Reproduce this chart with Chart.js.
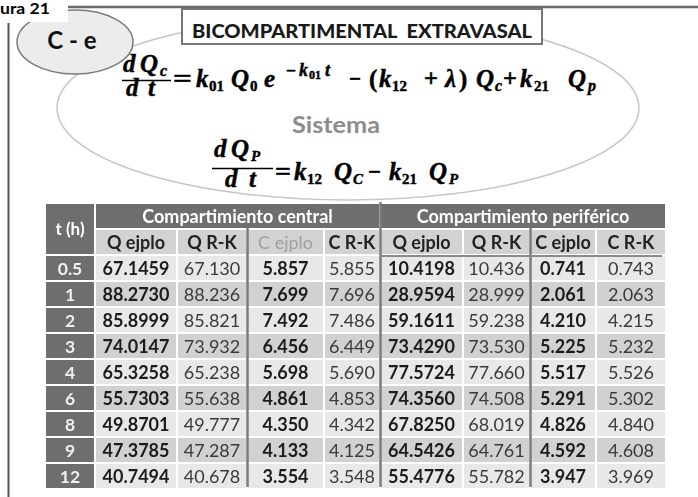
<!DOCTYPE html>
<html><head><meta charset="utf-8">
<script src="https://cdn.jsdelivr.net/npm/chart.js@4"></script>
<style>
html,body{margin:0;padding:0;background:#fff;overflow:hidden}
#wrap{position:relative;width:698px;height:497px}
#wrap svg,#wrap canvas{position:absolute;left:0;top:0}
</style></head><body>
<div id="wrap">
<svg width="698" height="497" xmlns="http://www.w3.org/2000/svg">
  <ellipse cx="348" cy="108" rx="291" ry="92" fill="none" stroke="#c6c6c6" stroke-width="1.5"/>
  <ellipse cx="75" cy="42" rx="58" ry="32" fill="#ececec" stroke="#7a7a7a" stroke-width="1.5"/>
  <text x="72" y="49" text-anchor="middle" font-family="Lato" font-weight="bold" font-size="24" fill="#111">C - e</text>
  <rect x="0" y="0" width="68" height="22" fill="#fff"/>
  <text x="0" y="14" font-family="Lato" font-weight="bold" font-size="16" fill="#000" textLength="50" lengthAdjust="spacingAndGlyphs">ura 21</text>
  <line x1="68" y1="7" x2="698" y2="7" stroke="#6b6b6b" stroke-width="2.5"/>
  <line x1="8.5" y1="23" x2="8.5" y2="497" stroke="#555" stroke-width="2"/>
  <rect x="182" y="9" width="360" height="35" fill="#fff" stroke="#777" stroke-width="2"/>
  <text x="192" y="38" font-family="Lato" font-weight="900" font-size="18" fill="#1a1a1a" textLength="340" lengthAdjust="spacingAndGlyphs">BICOMPARTIMENTAL&#160;&#160;EXTRAVASAL</text>
  <text x="292" y="133" font-family="Lato" font-weight="bold" font-size="22" fill="#8c8c8c" textLength="88" lengthAdjust="spacingAndGlyphs">Sistema</text>

  <g font-family="Liberation Serif" font-weight="bold" font-style="italic" font-size="25" fill="#000" stroke="#000" stroke-width="0.45">
    <!-- equation 1 -->
    <text x="123" y="72">d</text><text x="140" y="72">Q</text><text x="160" y="76" font-size="16">c</text>
    <line x1="122" y1="80.5" x2="171" y2="80.5" stroke="#000" stroke-width="1.6"/>
    <text x="126" y="96">d</text><text x="148" y="96">t</text>
    <text x="173" y="87" font-style="normal" textLength="19" lengthAdjust="spacingAndGlyphs">=</text>
    <text x="196" y="87">k</text><text x="209" y="91" font-size="15" font-style="normal">01</text>
    <text x="231" y="87">Q</text><text x="250" y="91" font-size="15" font-style="normal">0</text>
    <text x="264" y="87">e</text>
    <text x="286" y="76" font-size="16" font-style="normal" textLength="10" lengthAdjust="spacingAndGlyphs">−</text>
    <text x="299" y="76" font-size="18">k</text><text x="309" y="79" font-size="12" font-style="normal">01</text>
    <text x="325" y="76" font-size="18">t</text>
    <text x="349" y="87" font-style="normal" textLength="12" lengthAdjust="spacingAndGlyphs">−</text>
    <text x="369" y="87" font-style="normal">(</text><text x="379" y="87">k</text><text x="392" y="91" font-size="15" font-style="normal">12</text>
    <text x="424" y="87" font-style="normal" textLength="14" lengthAdjust="spacingAndGlyphs">+</text>
    <text x="445" y="87">λ</text><text x="459" y="87" font-style="normal">)</text>
    <text x="476" y="87">Q</text><text x="495" y="91" font-size="16">c</text>
    <text x="503" y="87" font-style="normal" textLength="14" lengthAdjust="spacingAndGlyphs">+</text>
    <text x="520" y="87">k</text><text x="534" y="91" font-size="15" font-style="normal">21</text>
    <text x="568" y="87">Q</text><text x="588" y="91" font-size="16">p</text>
    <!-- equation 2 -->
    <text x="214" y="157">d</text><text x="231" y="157">Q</text><text x="251" y="161" font-size="15">P</text>
    <line x1="212" y1="168.5" x2="273" y2="168.5" stroke="#000" stroke-width="1.6"/>
    <text x="225" y="187">d</text><text x="249" y="187">t</text>
    <text x="275" y="180" font-style="normal" textLength="16" lengthAdjust="spacingAndGlyphs">=</text>
    <text x="294" y="180">k</text><text x="307" y="184" font-size="15" font-style="normal">12</text>
    <text x="334" y="180">Q</text><text x="353" y="184" font-size="15">C</text>
    <text x="368" y="180" font-style="normal" textLength="13" lengthAdjust="spacingAndGlyphs">−</text>
    <text x="389" y="180">k</text><text x="402" y="184" font-size="15" font-style="normal">21</text>
    <text x="429" y="180">Q</text><text x="449" y="184" font-size="15">P</text>
  </g>
</svg>
<canvas id="c" width="698" height="497"></canvas>
</div>
<script>
// ---- data ----
const times = ['0.5', '1', '2', '3', '4', '6', '8', '9', '12'];
const timeHeader = 't (h)';
const groupHeaders = ['Compartimiento central', 'Compartimiento periférico'];
const subHeaders = ['Q ejplo', 'Q R-K', 'C ejplo', 'C R-K', 'Q ejplo', 'Q R-K', 'C ejplo', 'C R-K'];
const qCentralEjplo = [67.1459, 88.2730, 85.8999, 74.0147, 65.3258, 55.7303, 49.8701, 47.3785, 40.7494];
const qCentralRK    = [67.130, 88.236, 85.821, 73.932, 65.238, 55.638, 49.777, 47.287, 40.678];
const cCentralEjplo = [5.857, 7.699, 7.492, 6.456, 5.698, 4.861, 4.350, 4.133, 3.554];
const cCentralRK    = [5.855, 7.696, 7.486, 6.449, 5.690, 4.853, 4.342, 4.125, 3.548];
const qPerifEjplo   = [10.4198, 28.9594, 59.1611, 73.4290, 77.5724, 74.3560, 67.8250, 64.5426, 55.4776];
const qPerifRK      = [10.436, 28.999, 59.238, 73.530, 77.660, 74.508, 68.019, 64.761, 55.782];
const cPerifEjplo   = [0.741, 2.061, 4.210, 5.225, 5.517, 5.291, 4.826, 4.592, 3.947];
const cPerifRK      = [0.743, 2.063, 4.215, 5.232, 5.526, 5.302, 4.840, 4.608, 3.969];
const decimals      = [4, 3, 3, 3, 4, 3, 3, 3];

// ---- layout / style ----
const columns = [qCentralEjplo, qCentralRK, cCentralEjplo, cCentralRK, qPerifEjplo, qPerifRK, cPerifEjplo, cPerifRK];
const colWidths = [50, 82, 70, 77, 56, 83, 67, 66, 70];
const edges = [0];
colWidths.forEach(w => edges.push(edges[edges.length - 1] + w));
const rowLabels = ['hdr1', 'hdr2', ...times];
const FONT = 'Lato';
const boldCol = [true, false, true, false, true, false, true, false];

const darkCells = [
  { x: [edges[0], edges[1]], y: 'hdr1', t: timeHeader, span: true, mb: true, font: `bold 17px ${FONT}`, color: '#ffffff' },
  { x: [edges[0], edges[1]], y: 'hdr2', mt: true },
  { x: [edges[1], edges[5]], y: 'hdr1', t: groupHeaders[0], font: `bold 18px ${FONT}`, color: '#ffffff' },
  { x: [edges[5], edges[9]], y: 'hdr1', t: groupHeaders[1], font: `bold 18px ${FONT}`, color: '#ffffff' },
  ...times.map(tm => ({ x: [edges[0], edges[1]], y: tm, t: tm, font: `bold 17.5px ${FONT}`, color: '#f0f0f0' }))
];
const subCells = subHeaders.map((s, i) => ({
  x: [edges[i + 1], edges[i + 2]], y: 'hdr2', t: s,
  font: i === 2 ? `18px ${FONT}` : `bold 18px ${FONT}`,
  color: i === 2 ? '#a0a0a0' : '#222222'
}));
const lightCells = [], midCells = [];
times.forEach((tm, r) => {
  columns.forEach((col, c) => {
    const cell = {
      x: [edges[c + 1], edges[c + 2]], y: tm,
      t: col[r].toFixed(decimals[c]),
      font: boldCol[c] ? `bold 18px ${FONT}` : `18px ${FONT}`,
      color: boldCol[c] ? '#1c1c1c' : '#3a3a3a'
    };
    (r % 2 === 0 ? lightCells : midCells).push(cell);
  });
});

const common = {
  borderColor: '#ffffff',
  borderSkipped: false,
  grouped: false,
  barPercentage: 1,
  categoryPercentage: 1,
  inflateAmount: 0,
  borderWidth: (ctx) => {
    const r = ctx.raw;
    if (r && r.mb) return { top: 1, left: 1, right: 1, bottom: 0 };
    if (r && r.mt) return { top: 0, left: 1, right: 1, bottom: 1 };
    return 1;
  }
};

const textPlugin = {
  id: 'cellText',
  afterDatasetsDraw(chart) {
    const ctx = chart.ctx;
    ctx.save();
    ctx.textAlign = 'center';
    ctx.textBaseline = 'middle';
    chart.data.datasets.forEach((ds, di) => {
      const meta = chart.getDatasetMeta(di);
      meta.data.forEach((el, j) => {
        const raw = ds.data[j];
        if (!raw || raw.t == null) return;
        const p = el.getProps(['x', 'y', 'base', 'height'], true);
        const cx = (p.x + p.base) / 2;
        const cy = p.y + (raw.span ? p.height / 2 : 0) + 1;
        ctx.font = raw.font;
        ctx.fillStyle = raw.color;
        ctx.fillText(raw.t, cx, cy);
      });
    });
    ctx.restore();
  }
};

const separators = [
  { edge: 5, fromRow: 0 },
  { edge: 3, fromRow: 1 },
  { edge: 7, fromRow: 1 }
];
const sepPlugin = {
  id: 'separators',
  afterDraw(chart) {
    const xs = chart.scales.x, ys = chart.scales.y;
    const band = ys.getPixelForValue(1) - ys.getPixelForValue(0);
    const rowTop = i => ys.getPixelForValue(i) - band / 2;
    const bottom = rowTop(rowLabels.length) - 2;
    const ctx = chart.ctx;
    ctx.save();
    ctx.strokeStyle = '#7b7b7b';
    ctx.lineWidth = 2.5;
    separators.forEach(s => {
      const x = Math.round(xs.getPixelForValue(edges[s.edge])) + 0.5;
      ctx.beginPath();
      ctx.moveTo(x, rowTop(s.fromRow) - 1);
      ctx.lineTo(x, bottom);
      ctx.stroke();
    });
    ctx.lineWidth = 2;
    ctx.strokeStyle = '#8a8a8a';
    const yH = rowTop(2) + 1;
    ctx.beginPath();
    ctx.moveTo(xs.getPixelForValue(edges[5]), yH);
    ctx.lineTo(xs.getPixelForValue(edges[9]) - 4, yH);
    ctx.stroke();
    ctx.restore();
  }
};

new Chart(document.getElementById('c'), {
  type: 'bar',
  data: {
    labels: rowLabels,
    datasets: [
      { label: 'dark', data: darkCells, backgroundColor: '#6e6e6e', ...common },
      { label: 'sub', data: subCells, backgroundColor: '#d2d2d2', ...common },
      { label: 'light', data: lightCells, backgroundColor: '#e8e8e8', ...common },
      { label: 'mid', data: midCells, backgroundColor: '#d1d1d1', ...common }
    ]
  },
  options: {
    indexAxis: 'y',
    responsive: false,
    devicePixelRatio: 1,
    animation: false,
    layout: { padding: { left: 45, top: 203, right: 32, bottom: 8 } },
    scales: {
      x: { type: 'linear', min: 0, max: edges[edges.length - 1], display: false },
      y: { type: 'category', display: false, offset: true }
    },
    plugins: { legend: { display: false }, tooltip: { enabled: false } }
  },
  plugins: [textPlugin, sepPlugin]
});
</script>
</body></html>
